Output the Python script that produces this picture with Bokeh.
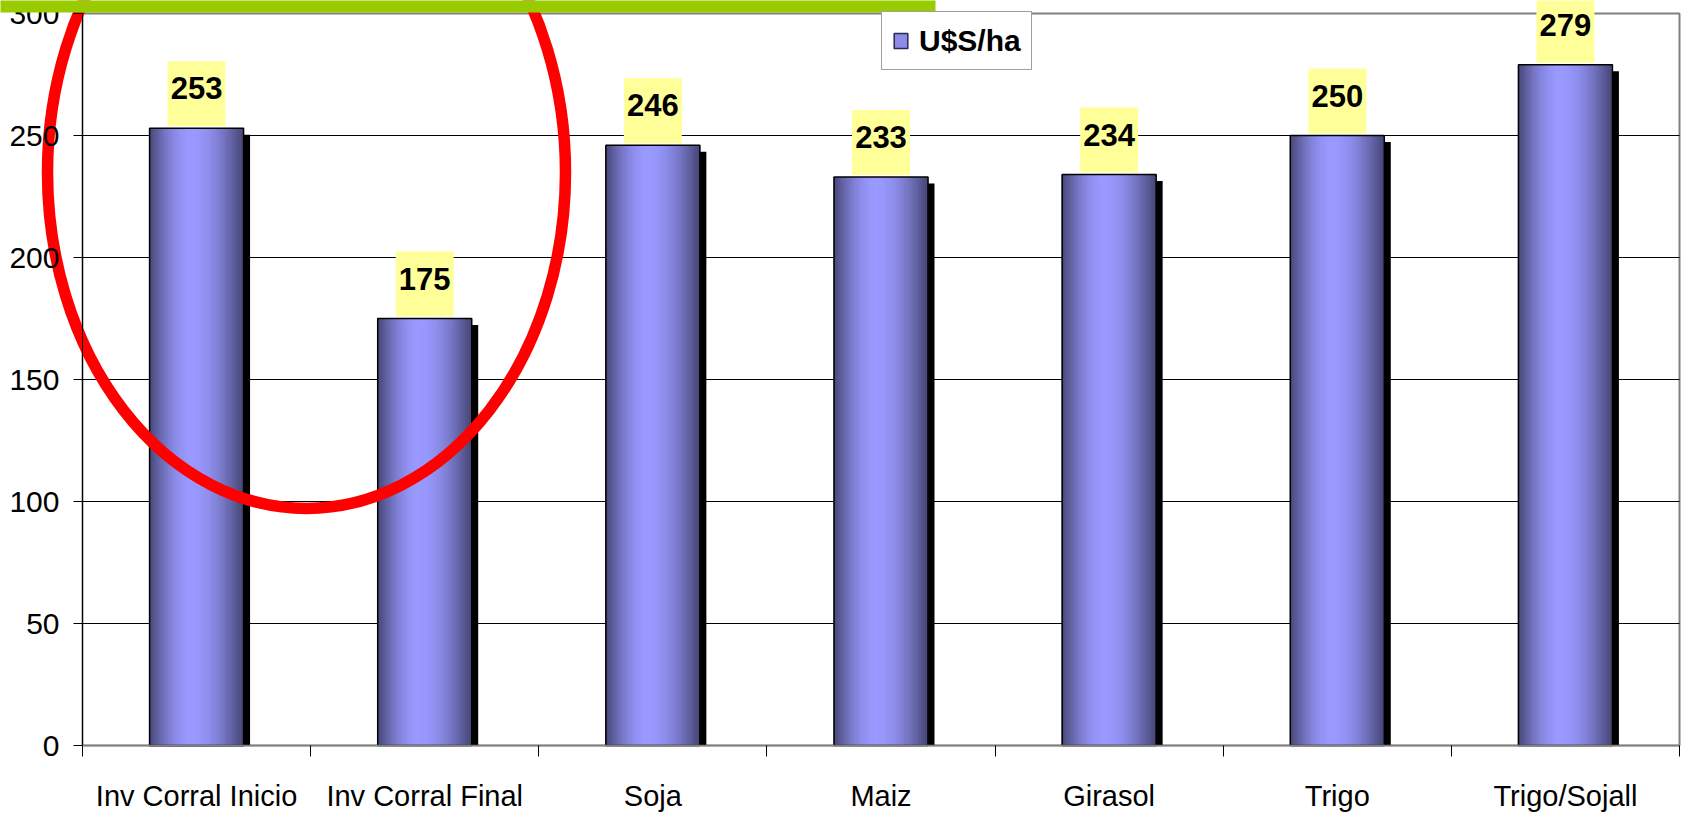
import numpy as np
from bokeh.plotting import figure
from bokeh.models import (Range1d, FixedTicker, BoxAnnotation, Label,
                          LinearAxis, Legend, LegendItem)
from bokeh.core.properties import value
from bokeh.embed import file_html
from bokeh.resources import INLINE

# ---------------- data ----------------
categories = ["Inv Corral Inicio", "Inv Corral Final", "Soja", "Maiz",
              "Girasol", "Trigo", "Trigo/Sojall"]
values = [253, 175, 246, 233, 234, 250, 279]
y_ticks = [0, 50, 100, 150, 200, 250, 300]
series_name = "U$S/ha"

# ---------------- layout / style ----------------
FONT = "Liberation Sans"
W, H = 1683, 816
PLOT_L, PLOT_R, PLOT_T, PLOT_B = 82, 1679, 13, 745   # plot-area edges (px)
n = len(categories)
Y_MAX = y_ticks[-1]
px_x = (PLOT_R - PLOT_L) / n      # pixels per category
px_y = (PLOT_B - PLOT_T) / Y_MAX  # pixels per unit


def dx(px):
    return (px - PLOT_L) / px_x


def dy(py):
    return (PLOT_B - py) / px_y


BAR_W = 94 / px_x
N_STRIPS = 44
DARK = np.array([70, 70, 118])
LIGHT = np.array([153, 153, 255])
PEAK = 0.45

p = figure(width=W, height=H,
           x_range=Range1d(dx(0), dx(W)), y_range=Range1d(dy(H), dy(0)),
           output_backend="svg", toolbar_location=None,
           x_axis_location=None, y_axis_location=None,
           min_border=0, min_border_left=0, min_border_right=0,
           min_border_top=0, min_border_bottom=0,
           background_fill_color="white", border_fill_color="white",
           outline_line_color=None)
p.grid.visible = False

centers = [i + 0.5 for i in range(n)]

# plot-area border (gray) and horizontal gridlines
p.quad(left=[0], right=[n], bottom=[0], top=[Y_MAX], fill_color=None,
       line_color="#808080", line_width=2)
grid_y = y_ticks[1:-1]
p.segment(x0=[0] * len(grid_y), x1=[n] * len(grid_y), y0=grid_y, y1=grid_y,
          line_color="black", line_width=1)

# legend swatch renderer (degenerate bar on the baseline, hidden by the bar)
dummy = p.vbar(x=[centers[0]], top=[0], bottom=[0], width=BAR_W,
               fill_color="#8c8ce8", line_color="#2a2a50", line_width=1.5)

# shadows
p.vbar(x=[c + 6.5 / px_x for c in centers], top=[v - 6.5 / px_y for v in values],
       bottom=0, width=BAR_W, fill_color="black", line_color=None)

# gradient bars built from vertical strips
sx, stop, scol = [], [], []
for c, v in zip(centers, values):
    for k in range(N_STRIPS):
        t = (k + 0.5) / N_STRIPS
        g = t / PEAK if t < PEAK else (1 - t) / (1 - PEAK)
        f = np.sin(g * np.pi / 2)
        col = DARK + (LIGHT - DARK) * f
        sx.append(c - BAR_W / 2 + t * BAR_W)
        stop.append(v)
        scol.append("#%02x%02x%02x" % tuple(int(round(x)) for x in col))
p.vbar(x=sx, top=stop, bottom=0, width=BAR_W / N_STRIPS * 1.35,
       fill_color=scol, line_color=None)

# bar outlines
p.vbar(x=centers, top=values, bottom=0, width=BAR_W, fill_color=None,
       line_color="black", line_width=1.5)

# ---------------- red ellipse (hand-drawn highlight) ----------------
p.ellipse(x=[dx(306)], y=[dy(172)], width=[518], height=[672],
          width_units="screen", height_units="screen",
          fill_color=None, line_color="#ff0000", line_width=11.5)

# ---------------- axes ----------------
xa = LinearAxis(fixed_location=0, bounds=(0, n))
xa.ticker = FixedTicker(ticks=centers, minor_ticks=list(range(n + 1)))
xa.major_label_overrides = {c: cat for c, cat in zip(centers, categories)}
xa.major_tick_line_color = None
xa.major_tick_out = 11
xa.major_tick_in = 0
xa.minor_tick_line_color = "black"
xa.minor_tick_out = 11
xa.minor_tick_in = 0
xa.axis_line_color = "#808080"
xa.axis_line_width = 1.5
xa.major_label_text_font = FONT
xa.major_label_text_font_size = "29px"
xa.major_label_text_color = "black"
xa.major_label_standoff = 23
p.add_layout(xa, "below")

ya = LinearAxis(fixed_location=0, bounds=(0, Y_MAX))
ya.ticker = FixedTicker(ticks=y_ticks)
ya.major_tick_out = 9
ya.major_tick_in = 0
ya.major_tick_line_color = "black"
ya.minor_tick_line_color = None
ya.axis_line_color = "black"
ya.axis_line_width = 1
ya.major_label_text_font = FONT
ya.major_label_text_font_size = "30px"
ya.major_label_text_color = "black"
ya.major_label_standoff = 14
p.add_layout(ya, "left")

# ---------------- value labels ----------------
LB_W = 58 / px_x
for c, v in zip(centers, values):
    p.add_layout(BoxAnnotation(left=c - LB_W / 2, right=c + LB_W / 2,
                               bottom=v + 2 / px_y, top=v + 67 / px_y,
                               fill_color="#ffff99", fill_alpha=1, line_alpha=0,
                               level="annotation"))
for c, v in zip(centers, values):
    p.add_layout(Label(x=c, y=v + 40 / px_y, text=str(v), text_align="center",
                       text_baseline="alphabetic", text_font=FONT,
                       text_font_style="bold", text_font_size="31px",
                       text_color="black", level="overlay"))

# ---------------- green title strip (over the ellipse and the "300" label) ----
p.add_layout(BoxAnnotation(left=dx(-10), right=dx(935), bottom=dy(12), top=dy(-10),
                           fill_color="#99cc00", fill_alpha=1, line_alpha=0,
                           level="overlay"))

# ---------------- legend ----------------
legend = Legend(items=[LegendItem(label=value(series_name), renderers=[dummy])],
                location=(881, H - 70), margin=0, padding=10,
                glyph_width=17, glyph_height=19, label_standoff=10,
                label_height=37,
                label_text_font=FONT, label_text_font_style="bold",
                label_text_font_size="30px", label_text_color="black",
                border_line_color="#404040", border_line_width=1.5,
                background_fill_color="white", background_fill_alpha=1)
p.add_layout(legend, "center")

open("out.html", "w").write(file_html(p, INLINE))
